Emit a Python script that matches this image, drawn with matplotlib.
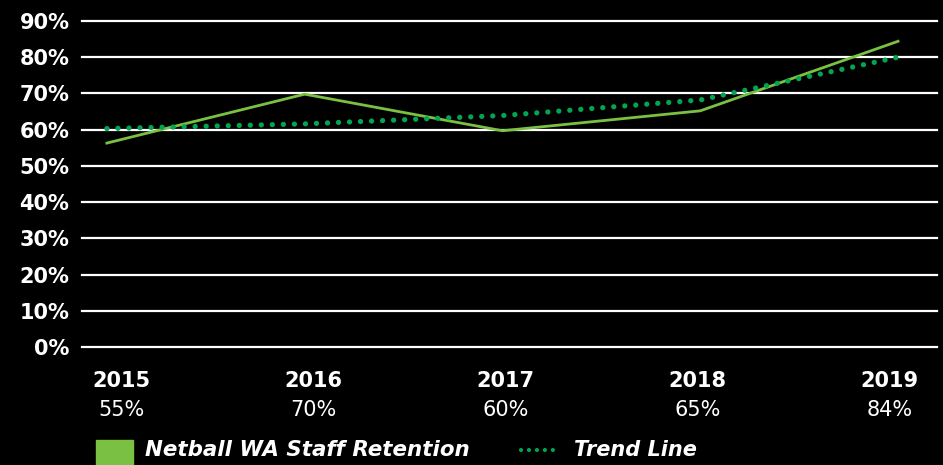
import matplotlib.pyplot as plt
from matplotlib.patches import Rectangle
from matplotlib.lines import Line2D

anos = ['2015', '2016', '2017', '2018', '2019']
rotulos_pct = ['55%', '70%', '60%', '65%', '84%']
retencao = [56.3, 69.8, 59.7, 65.2, 84.4]
tendencia = [60.3, 61.6, 63.9, 68.2, 80.0]
ticks_y = [0, 10, 20, 30, 40, 50, 60, 70, 80, 90]

verde_claro = '#7AC143'
verde_escuro = '#00A651'
fonte = 'DejaVu Sans'

fig = plt.figure(figsize=(9.43, 4.65), dpi=100, facecolor='black')
ax = fig.add_axes([82/943, 118/465, 855/943, 326/465])
ax.set_facecolor('black')

x = list(range(len(anos)))
ax.plot(x, retencao, color=verde_claro, lw=2.0, zorder=3)
ax.plot(x, tendencia, color=verde_escuro, lw=3.8, linestyle=(0, (0.01, 2.08)),
        dash_capstyle='round', zorder=4)

ax.set_ylim(0, 90)
ax.set_xlim(-0.126, 4.197)
ax.set_yticks(ticks_y)
ax.set_yticklabels([f'{t}%' for t in ticks_y], color='white', fontsize=15,
                   fontweight='bold', family=fonte)
ax.yaxis.grid(True, color='white', lw=1.6)
for g in ax.get_ygridlines():
    g.set_clip_on(False)
ax.set_axisbelow(True)
ax.tick_params(axis='y', length=0, pad=9)
ax.set_xticks([])

# rotulos das categorias (ano + percentual) abaixo do eixo
for i, (ano, r) in enumerate(zip(anos, rotulos_pct)):
    xc = (121.5 - 82) / 855 + i * 192 / 855
    ax.text(xc, -0.075, ano, transform=ax.transAxes, ha='center', va='top',
            color='white', fontsize=15, fontweight='bold', family=fonte)
    ax.text(xc, -0.163, r, transform=ax.transAxes, ha='center', va='top',
            color='white', fontsize=15, family=fonte)

for s in ax.spines.values():
    s.set_visible(False)

# legenda feita a mao
fig.patches.append(Rectangle((96/943, 0), 37/943, 25/465, transform=fig.transFigure,
                             color=verde_claro))
fig.text(145/943, 15/465, 'Netball WA Staff Retention', color='white',
         fontsize=15.4, fontweight='bold', style='italic', family=fonte, va='center')
fig.lines.append(Line2D([521/943, 560/943], [15/465, 15/465], transform=fig.transFigure,
                        color=verde_escuro, lw=3.0, linestyle=(0, (0.01, 1.9)),
                        dash_capstyle='round'))
fig.text(574/943, 15/465, 'Trend Line', color='white', fontsize=15, fontweight='bold',
         style='italic', family=fonte, va='center')

fig.savefig('out.png', dpi=100, facecolor='black')
